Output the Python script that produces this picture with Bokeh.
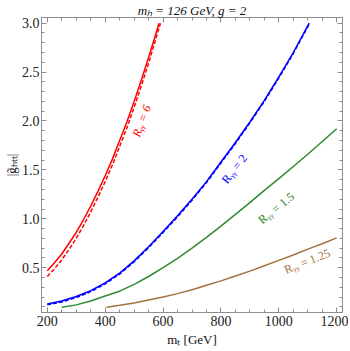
import math
from bokeh.plotting import figure
from bokeh.models import (Range1d, LinearAxis, Label, FixedTicker,
                          CustomJSTickFormatter, PrintfTickFormatter)
from bokeh.embed import file_html
from bokeh.resources import INLINE

# ---------------- data ----------------
red_solid_mT = [200, 225, 250, 275, 300, 325, 350, 375, 400, 425, 450, 475, 500, 525, 550, 575, 586]
red_solid_g = [0.47, 0.55, 0.64, 0.75, 0.86, 0.99, 1.13, 1.28, 1.44, 1.61, 1.80, 1.99, 2.20, 2.42, 2.65, 2.89, 3.00]

red_dash_mT = [200, 225, 250, 275, 300, 325, 350, 375, 400, 425, 450, 475, 500, 525, 550, 575, 591]
red_dash_g = [0.41, 0.49, 0.58, 0.685, 0.80, 0.93, 1.07, 1.22, 1.38, 1.55, 1.74, 1.93, 2.14, 2.36, 2.59, 2.84, 3.00]

blue_solid_mT = [200, 250, 300, 350, 400, 450, 500, 550, 600, 650, 700, 750, 800, 850, 900, 950, 1000, 1050, 1105]
blue_solid_g = [0.13, 0.16, 0.205, 0.265, 0.345, 0.445, 0.57, 0.715, 0.87, 1.03, 1.20, 1.38, 1.58, 1.78, 1.99, 2.21, 2.45, 2.70, 3.00]

blue_dash_mT = [200, 250, 300, 350, 400, 450, 500, 550, 600, 650, 700, 750, 800, 850, 900, 950, 1000, 1050, 1107]
blue_dash_g = [0.12, 0.15, 0.195, 0.255, 0.335, 0.435, 0.56, 0.705, 0.86, 1.02, 1.19, 1.37, 1.57, 1.77, 1.98, 2.20, 2.44, 2.69, 3.00]

green_mT = [250, 300, 350, 400, 450, 500, 550, 600, 650, 700, 750, 800, 850, 900, 950, 1000, 1050, 1100, 1150, 1200]
green_g = [0.095, 0.12, 0.16, 0.21, 0.26, 0.33, 0.41, 0.50, 0.595, 0.70, 0.81, 0.925, 1.045, 1.165, 1.29, 1.41, 1.535, 1.66, 1.79, 1.92]

brown_mT = [405, 450, 500, 550, 600, 650, 700, 750, 800, 850, 900, 950, 1000, 1050, 1100, 1150, 1200]
brown_g = [0.095, 0.115, 0.14, 0.17, 0.20, 0.235, 0.275, 0.32, 0.365, 0.415, 0.465, 0.52, 0.575, 0.63, 0.69, 0.745, 0.805]

x_major_ticks = [200, 400, 600, 800, 1000, 1200]
x_minor_ticks = [200, 250, 300, 350, 400, 450, 500, 550, 600, 650, 700, 750, 800,
                 850, 900, 950, 1000, 1050, 1100, 1150, 1200]
y_major_ticks = [0.5, 1.0, 1.5, 2.0, 2.5, 3.0]
y_minor_ticks = [0.1, 0.2, 0.3, 0.4, 0.5, 0.6, 0.7, 0.8, 0.9, 1.0, 1.1, 1.2, 1.3, 1.4, 1.5,
                 1.6, 1.7, 1.8, 1.9, 2.0, 2.1, 2.2, 2.3, 2.4, 2.5, 2.6, 2.7, 2.8, 2.9, 3.0]

title_text = "m\u2095 = 126 GeV, g = 2"
x_label = "m\u209c [GeV]"
y_label = "|g\u0303\u2095\u209c\u209c|"

# ---------------- styling ----------------
SERIF = "Liberation Serif"
GRAY = "#8c8c8c"
RED = "#ff0000"
BLUE = "#0000ff"
GREEN = "#2e8b2e"
BROWN = "#a5703d"

p = figure(width=348, height=349,
           x_range=Range1d(180, 1220), y_range=Range1d(0.042, 3.058),
           output_backend="svg", toolbar_location=None,
           min_border_left=40, min_border_right=6,
           min_border_top=14, min_border_bottom=35)
p.xgrid.visible = False
p.ygrid.visible = False
p.outline_line_color = GRAY
p.outline_line_width = 1
p.background_fill_color = "white"
p.border_fill_color = "white"

p.title.text = title_text
p.title.text_font = SERIF
p.title.text_font_size = "13px"
p.title.text_font_style = "italic"
p.title.text_color = "#111111"
p.title.align = "center"
p.title.offset = -17
p.title.standoff = 0


def style_axis(ax, ticks, minor, labels=True):
    ax.ticker = FixedTicker(ticks=ticks, minor_ticks=minor)
    ax.axis_line_color = GRAY
    ax.major_tick_line_color = GRAY
    ax.minor_tick_line_color = GRAY
    ax.major_tick_in = 5
    ax.major_tick_out = 0
    ax.minor_tick_in = 3
    ax.minor_tick_out = 0
    if labels:
        ax.major_label_text_font = SERIF
        ax.major_label_text_font_size = "14px"
        ax.major_label_text_color = "#222222"
        ax.major_label_standoff = 2
        ax.axis_label_text_font = SERIF
        ax.axis_label_text_font_size = "13px"
        ax.axis_label_text_font_style = "normal"
        ax.axis_label_text_color = "#111111"
        ax.axis_label_standoff = 0
    else:
        ax.formatter = CustomJSTickFormatter(code="return ''")
        ax.major_label_text_font_size = "0px"
        ax.major_label_standoff = 0


style_axis(p.xaxis[0], x_major_ticks, x_minor_ticks)
style_axis(p.yaxis[0], y_major_ticks, y_minor_ticks)
p.yaxis[0].formatter = PrintfTickFormatter(format="%.1f")
p.xaxis[0].axis_label = x_label
p.xaxis[0].major_label_standoff = 3
p.xaxis[0].axis_label_standoff = 3
p.yaxis[0].axis_label = y_label

top_ax = LinearAxis()
style_axis(top_ax, x_major_ticks, x_minor_ticks, labels=False)
p.add_layout(top_ax, "above")
right_ax = LinearAxis()
style_axis(right_ax, y_major_ticks, y_minor_ticks, labels=False)
p.add_layout(right_ax, "right")

# ---------------- curves ----------------
LW = 1.5
p.line(red_solid_mT, red_solid_g, line_color=RED, line_width=LW)
p.line(red_dash_mT, red_dash_g, line_color=RED, line_width=LW, line_dash="4 2")
p.line(blue_solid_mT, blue_solid_g, line_color=BLUE, line_width=LW)
p.line(blue_dash_mT, blue_dash_g, line_color=BLUE, line_width=LW, line_dash="4 2")
p.line(green_mT, green_g, line_color=GREEN, line_width=LW)
p.line(brown_mT, brown_g, line_color=BROWN, line_width=LW)

# ---------------- curve labels ----------------
def curve_label(x, y, txt, color, deg, style="normal"):
    p.add_layout(Label(x=x, y=y, text=txt, angle=math.radians(deg),
                       text_align="center", text_baseline="middle",
                       text_color=color, text_font=SERIF, text_font_size="12px",
                       text_font_style=style))


curve_label(526, 2.0, "R\u1d67\u1d67 = 6", RED, 70, "italic")
curve_label(846, 1.51, "R\u1d67\u1d67 = 2", BLUE, 52)
curve_label(991, 1.108, "R\u1d67\u1d67 = 1.5", GREEN, 39)
curve_label(1098, 0.565, "R\u1d67\u1d67 = 1.25", BROWN, 22)

open("out.html", "w").write(file_html(p, INLINE))
